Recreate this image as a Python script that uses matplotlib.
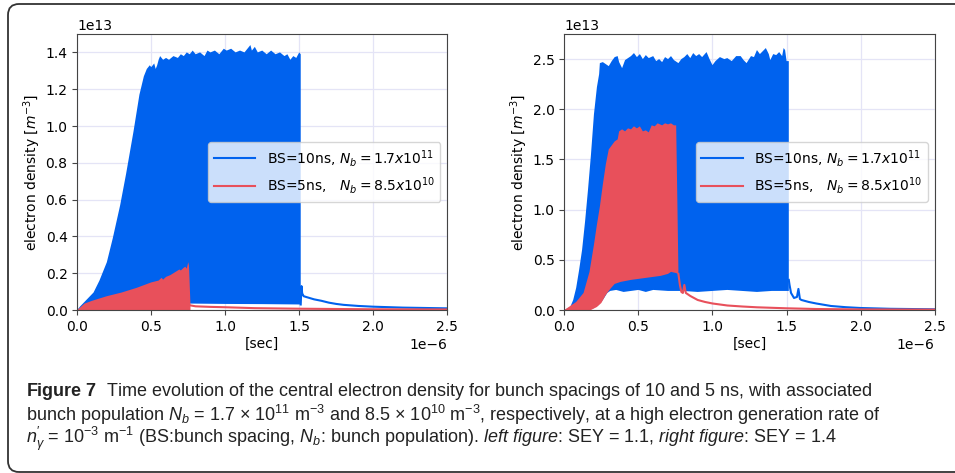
import matplotlib
matplotlib.use("Agg")
import matplotlib.pyplot as plt
from matplotlib import font_manager
from matplotlib.patches import FancyBboxPatch
from matplotlib.transforms import IdentityTransform

# ---- data (time in us, density in 1e13 m^-3) ----
# left panel, SEY = 1.1
l_blue_up_t = [0, 0.02, 0.05, 0.08, 0.11, 0.15, 0.2, 0.24, 0.29, 0.33, 0.38, 0.42, 0.45, 0.47, 0.49,
               0.5, 0.52, 0.53, 0.54, 0.55, 0.56, 0.58, 0.6, 0.62, 0.65, 0.68, 0.7, 0.72, 0.74, 0.76,
               0.78, 0.8, 0.83, 0.86, 0.88, 0.9, 0.93, 0.96, 0.99, 1.01, 1.04, 1.07, 1.1, 1.13, 1.15,
               1.17, 1.18, 1.2, 1.22, 1.25, 1.28, 1.31, 1.34, 1.37, 1.4, 1.42, 1.44, 1.46, 1.48, 1.5, 1.51]
l_blue_up = [0, 0.02, 0.045, 0.07, 0.095, 0.16, 0.26, 0.39, 0.57, 0.74, 0.97, 1.17, 1.27, 1.31, 1.33,
             1.32, 1.34, 1.31, 1.33, 1.36, 1.38, 1.36, 1.37, 1.36, 1.38, 1.37, 1.39, 1.38, 1.40, 1.39,
             1.41, 1.39, 1.40, 1.38, 1.41, 1.40, 1.41, 1.39, 1.42, 1.41, 1.42, 1.40, 1.41, 1.40, 1.42,
             1.44, 1.41, 1.43, 1.40, 1.41, 1.39, 1.41, 1.39, 1.40, 1.38, 1.39, 1.36, 1.38, 1.37, 1.40, 1.39]
l_blue_low_t = [0, 0.1, 0.2, 0.4, 0.6, 0.76, 1.0, 1.25, 1.51]
l_blue_low = [0, 0.005, 0.01, 0.02, 0.03, 0.035, 0.033, 0.032, 0.03]
l_blue_tail_t = [1.51, 1.515, 1.52, 1.53, 1.55, 1.6, 1.65, 1.7, 1.75, 1.8, 1.9, 2.0, 2.2, 2.5]
l_blue_tail = [0.03, 0.13, 0.09, 0.075, 0.07, 0.058, 0.05, 0.04, 0.033, 0.028, 0.022, 0.018, 0.013, 0.009]

l_red_up_t = [0, 0.05, 0.1, 0.2, 0.3, 0.4, 0.45, 0.5, 0.55, 0.57, 0.58, 0.6, 0.63, 0.65, 0.67, 0.69,
              0.7, 0.72, 0.73, 0.74, 0.75, 0.755, 0.765]
l_red_up = [0, 0.035, 0.05, 0.075, 0.095, 0.12, 0.135, 0.15, 0.16, 0.175, 0.165, 0.18, 0.19, 0.2,
            0.21, 0.22, 0.215, 0.23, 0.235, 0.225, 0.26, 0.24, 0.03]
l_red_low_t = [0, 0.765]
l_red_low = [0, 0]
l_red_tail_t = [0.765, 0.8, 0.9, 1.0, 1.2, 1.5, 2.0, 2.5]
l_red_tail = [0.025, 0.02, 0.017, 0.015, 0.01, 0.007, 0.004, 0.003]

# right panel, SEY = 1.4
r_blue_up_t = [0, 0.04, 0.06, 0.08, 0.1, 0.12, 0.14, 0.16, 0.18, 0.2, 0.22, 0.235, 0.24, 0.26, 0.28,
               0.3, 0.32, 0.34, 0.36, 0.37, 0.39, 0.41, 0.43, 0.45, 0.47, 0.49, 0.51, 0.53, 0.55, 0.57,
               0.6, 0.62, 0.64, 0.66, 0.68, 0.7, 0.72, 0.74, 0.77, 0.79, 0.81, 0.83, 0.85, 0.87, 0.89,
               0.91, 0.93, 0.96, 0.98, 1.0, 1.02, 1.05, 1.08, 1.1, 1.13, 1.16, 1.19, 1.21, 1.23, 1.26,
               1.28, 1.3, 1.32, 1.34, 1.36, 1.38, 1.39, 1.41, 1.43, 1.45, 1.47, 1.48, 1.49, 1.5, 1.515]
r_blue_up = [0, 0.03, 0.1, 0.22, 0.4, 0.6, 0.88, 1.2, 1.55, 1.95, 2.22, 2.35, 2.46, 2.47, 2.45,
             2.43, 2.48, 2.52, 2.53, 2.47, 2.41, 2.49, 2.51, 2.53, 2.56, 2.52, 2.55, 2.50, 2.54, 2.51,
             2.53, 2.48, 2.50, 2.47, 2.52, 2.50, 2.53, 2.49, 2.46, 2.50, 2.52, 2.55, 2.51, 2.56, 2.53,
             2.55, 2.52, 2.57, 2.50, 2.44, 2.48, 2.52, 2.50, 2.51, 2.48, 2.53, 2.53, 2.49, 2.46, 2.53,
             2.52, 2.59, 2.55, 2.58, 2.61, 2.55, 2.49, 2.55, 2.54, 2.57, 2.53, 2.61, 2.59, 2.48, 2.48]
r_blue_low_t = [0, 0.17, 0.2, 0.23, 0.26, 0.29, 0.31, 0.35, 0.4, 0.45, 0.5, 0.55, 0.6, 0.7, 0.8,
                0.9, 1.0, 1.1, 1.2, 1.3, 1.4, 1.515]
r_blue_low = [0, 0, 0.02, 0.05, 0.1, 0.17, 0.19, 0.2, 0.18, 0.19, 0.2, 0.18, 0.2, 0.19, 0.19,
              0.18, 0.19, 0.2, 0.19, 0.18, 0.19, 0.19]
r_blue_tail_t = [1.515, 1.52, 1.53, 1.55, 1.57, 1.58, 1.59, 1.6, 1.65, 1.7, 1.8, 1.9, 2.0, 2.2, 2.5]
r_blue_tail = [0.3, 0.25, 0.17, 0.12, 0.13, 0.21, 0.11, 0.1, 0.08, 0.065, 0.04, 0.028, 0.02, 0.012, 0.007]

r_red_up_t = [0, 0.08, 0.13, 0.17, 0.2, 0.22, 0.24, 0.26, 0.28, 0.3, 0.32, 0.34, 0.36, 0.37, 0.39,
              0.41, 0.43, 0.45, 0.47, 0.49, 0.51, 0.53, 0.55, 0.57, 0.59, 0.61, 0.63, 0.66, 0.68,
              0.7, 0.72, 0.74, 0.755, 0.77]
r_red_up = [0, 0.08, 0.17, 0.38, 0.65, 0.85, 1.03, 1.25, 1.45, 1.6, 1.64, 1.68, 1.7, 1.78, 1.80,
            1.78, 1.81, 1.80, 1.83, 1.81, 1.83, 1.78, 1.79, 1.77, 1.84, 1.83, 1.86, 1.84, 1.86,
            1.85, 1.86, 1.84, 1.84, 0.4]
r_red_low_t = [0, 0.18, 0.22, 0.25, 0.28, 0.31, 0.34, 0.38, 0.45, 0.5, 0.55, 0.6, 0.65, 0.7, 0.72, 0.75, 0.77]
r_red_low = [0, 0, 0.03, 0.07, 0.15, 0.21, 0.26, 0.28, 0.3, 0.31, 0.32, 0.33, 0.34, 0.36, 0.38, 0.37, 0.36]
r_red_tail_t = [0.77, 0.78, 0.79, 0.8, 0.81, 0.82, 0.85, 0.9, 0.95, 1.0, 1.1, 1.2, 1.3, 1.5, 1.7, 2.0, 2.5]
r_red_tail = [0.36, 0.25, 0.18, 0.17, 0.25, 0.17, 0.14, 0.1, 0.08, 0.065, 0.045, 0.035, 0.027, 0.017,
              0.01, 0.006, 0.004]

labels = [r"BS=10ns, $N_b=1.7x10^{11}$", r"BS=5ns,   $N_b=8.5x10^{10}$"]
ylims = [1.5, 2.75]

BLUE = "#0062ee"
RED = "#e8505b"
T = 1e-6
D = 1e13

# caption font (condensed if available)
cap_font = "Liberation Sans"
try:
    font_manager.findfont(font_manager.FontProperties(family="Liberation Sans Narrow"),
                          fallback_to_default=False)
    cap_font = "Liberation Sans Narrow"
except Exception:
    pass
plt.rcParams["mathtext.rm"] = cap_font
plt.rcParams["mathtext.it"] = cap_font + ":italic"
plt.rcParams["mathtext.bf"] = cap_font + ":bold"

fig = plt.figure(figsize=(9.55, 4.73), dpi=100)
ax1 = fig.add_axes([0.0809, 0.3446, 0.3874, 0.5835])
ax2 = fig.add_axes([0.5909, 0.3446, 0.3879, 0.5835])


def panel(ax, bu_t, bu, bl_t, bl, bt_t, bt, ru_t, ru, rl_t, rl, rt_t, rt, ytop):
    # blue band (fast oscillation shown as its envelope)
    xs = [t * T for t in bu_t] + [t * T for t in bl_t[::-1]]
    ys = [v * D for v in bu] + [v * D for v in bl[::-1]]
    ax.fill(xs, ys, color=BLUE, lw=0)
    ax.plot([t * T for t in bt_t], [v * D for v in bt], color=BLUE, lw=1.5, label=labels[0])
    xs = [t * T for t in ru_t] + [t * T for t in rl_t[::-1]]
    ys = [v * D for v in ru] + [v * D for v in rl[::-1]]
    ax.fill(xs, ys, color=RED, lw=0)
    ax.plot([t * T for t in rt_t], [v * D for v in rt], color=RED, lw=1.5, label=labels[1])
    ax.set_xlim(0, 2.5e-6)
    ax.set_ylim(0, ytop * D)
    ax.set_axisbelow(True)
    ax.grid(True, color="#e4e4f6", lw=0.9)
    for s in ax.spines.values():
        s.set_color("#444444")
    ax.tick_params(labelsize=10, color="#444444")
    ax.set_xlabel("[sec]", fontsize=10, labelpad=2)
    ax.set_ylabel(r"electron density [$m^{-3}$]", fontsize=10, labelpad=2)
    ax.legend(loc="center right", fontsize=10, handlelength=3)


panel(ax1, l_blue_up_t, l_blue_up, l_blue_low_t, l_blue_low, l_blue_tail_t, l_blue_tail,
      l_red_up_t, l_red_up, l_red_low_t, l_red_low, l_red_tail_t, l_red_tail, ylims[0])
panel(ax2, r_blue_up_t, r_blue_up, r_blue_low_t, r_blue_low, r_blue_tail_t, r_blue_tail,
      r_red_up_t, r_red_up, r_red_low_t, r_red_low, r_red_tail_t, r_red_tail, ylims[1])

# rounded frame around the figure
box = FancyBboxPatch((8, 1), 1000, 468, boxstyle="round,pad=0,rounding_size=11",
                     transform=IdentityTransform(), fc="none", ec="#333333", lw=1.3)
fig.patches.append(box)

cap = [
    r"$\mathbf{Figure\ 7}$  Time evolution of the central electron density for bunch spacings of 10 and 5 ns, with associated",
    r"bunch population $N_b$ = 1.7 $\times$ 10$^{11}$ m$^{-3}$ and 8.5 $\times$ 10$^{10}$ m$^{-3}$, respectively, at a high electron generation rate of",
    r"$n^{\prime}_{\gamma}$ = 10$^{-3}$ m$^{-1}$ (BS:bunch spacing, $N_b$: bunch population). $\mathit{left\ figure}$: SEY = 1.1, $\mathit{right\ figure}$: SEY = 1.4",
]
for i, line in enumerate(cap):
    fig.text(26 / 955, 1 - (391 + 24 * i) / 473, line, fontsize=13, family=cap_font,
             math_fontfamily="custom", va="center", ha="left", color="#222222")

fig.savefig("out.png", dpi=100)
